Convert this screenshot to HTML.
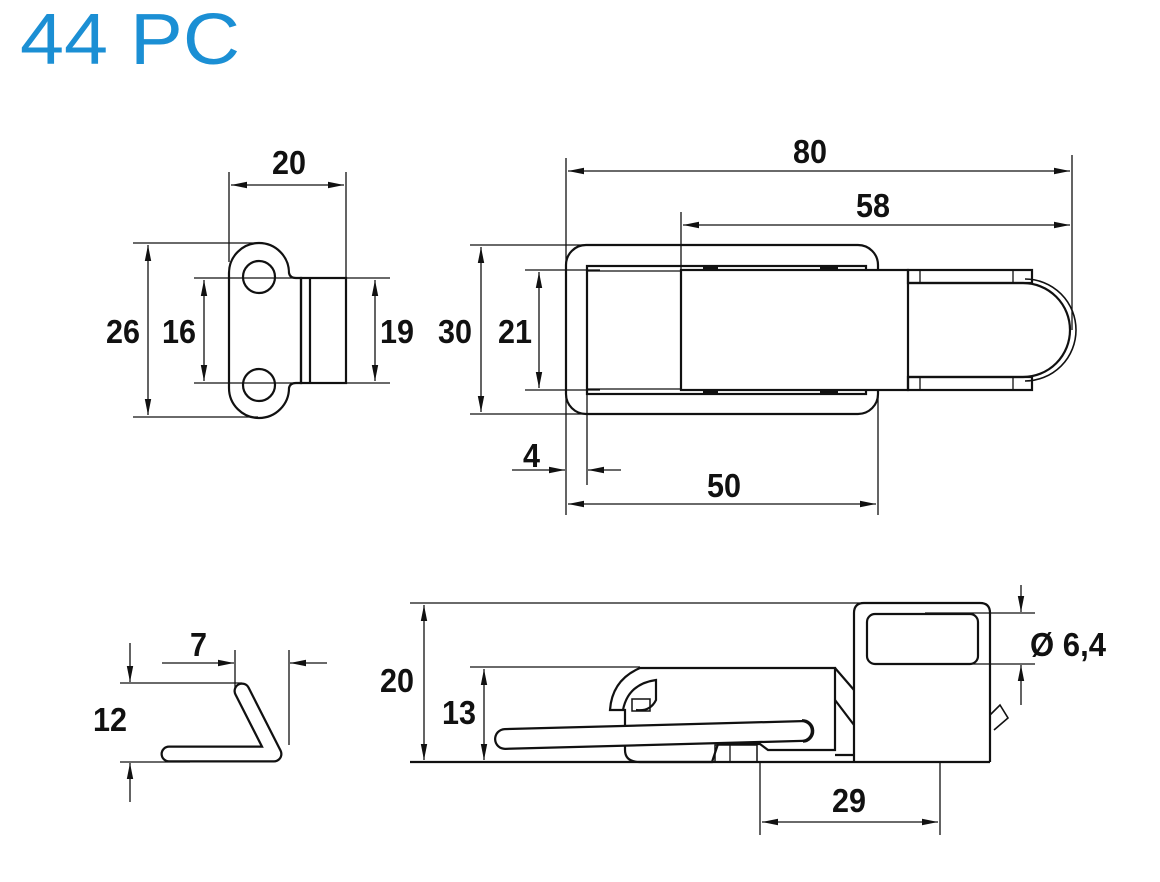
<!DOCTYPE html>
<html><head><meta charset="utf-8"><style>
html,body{margin:0;padding:0;background:#fff;}
svg{display:block}
.t{font-family:"Liberation Sans Narrow","Liberation Sans",sans-serif;font-weight:bold;font-size:33px;fill:#111;}
</style></head><body>
<svg width="1160" height="882" viewBox="0 0 1160 882" xmlns="http://www.w3.org/2000/svg">
<defs>
<marker id="a" viewBox="0 0 16 8" refX="16" refY="4" markerWidth="16" markerHeight="8" markerUnits="userSpaceOnUse" orient="auto-start-reverse"><path d="M0,0.8 L16,4 L0,7.2 z" fill="#111"/></marker>
</defs>
<text x="20" y="64" font-family="Liberation Sans, sans-serif" font-size="72" fill="#1b8fd4" textLength="220" lengthAdjust="spacingAndGlyphs">44 PC</text>

<g stroke="#111" fill="none" stroke-width="1.3">
<!-- top-left part -->
<line x1="229" y1="172" x2="229" y2="262"/>
<line x1="346" y1="172" x2="346" y2="278"/>
<line x1="231" y1="185" x2="344" y2="185" marker-start="url(#a)" marker-end="url(#a)"/>
<line x1="133" y1="243" x2="262" y2="243"/>
<line x1="133" y1="417" x2="258" y2="417"/>
<line x1="148" y1="245" x2="148" y2="415" marker-start="url(#a)" marker-end="url(#a)"/>
<line x1="194" y1="278" x2="300" y2="278"/>
<line x1="194" y1="383" x2="300" y2="383"/>
<line x1="204" y1="280" x2="204" y2="381" marker-start="url(#a)" marker-end="url(#a)"/>
<line x1="346" y1="278" x2="390" y2="278"/>
<line x1="346" y1="383" x2="390" y2="383"/>
<line x1="375" y1="280" x2="375" y2="381" marker-start="url(#a)" marker-end="url(#a)"/>
<g stroke-width="2.2">
<path d="M229,273 A30,30 0 0 1 289,273 Q290,278 296,278 L301,278 L301,383 L296,383 Q290,383 289,388 A30,30 0 0 1 229,388 Z"/>
<circle cx="259" cy="277" r="16"/>
<circle cx="259" cy="385" r="16"/>
<rect x="301" y="278" width="45" height="105"/>
<line x1="310" y1="278" x2="310" y2="383"/>
</g>

<!-- top-right part -->
<line x1="566" y1="158" x2="566" y2="515"/>
<line x1="1072" y1="155" x2="1072" y2="330"/>
<line x1="568" y1="171" x2="1070" y2="171" marker-start="url(#a)" marker-end="url(#a)"/>
<line x1="681" y1="212" x2="681" y2="275"/>
<line x1="683" y1="225" x2="1070" y2="225" marker-start="url(#a)" marker-end="url(#a)"/>
<line x1="470" y1="245" x2="590" y2="245"/>
<line x1="470" y1="414" x2="590" y2="414"/>
<line x1="481" y1="247" x2="481" y2="412" marker-start="url(#a)" marker-end="url(#a)"/>
<line x1="525" y1="270" x2="600" y2="270"/>
<line x1="525" y1="390" x2="600" y2="390"/>
<line x1="539" y1="272" x2="539" y2="388" marker-start="url(#a)" marker-end="url(#a)"/>
<line x1="587" y1="394" x2="587" y2="485"/>
<line x1="512" y1="470" x2="565" y2="470" marker-end="url(#a)"/>
<line x1="621" y1="470" x2="588" y2="470" marker-end="url(#a)"/>
<line x1="878" y1="395" x2="878" y2="515"/>
<line x1="568" y1="504" x2="876" y2="504" marker-start="url(#a)" marker-end="url(#a)"/>
<g stroke-width="2.2">
<rect x="566" y="245" width="312" height="169" rx="20"/>
<rect x="587" y="266" width="279" height="128"/>
<line x1="587" y1="271" x2="866" y2="271" stroke-width="1.3"/>
<line x1="587" y1="389" x2="866" y2="389" stroke-width="1.3"/>
<rect x="681" y="270" width="227" height="120" fill="#fff"/>
<path d="M908,283 L1023,283 A47,47 0 0 1 1023,377 L908,377"/>
<path d="M1025,279 A51,51 0 0 1 1025,381" stroke-width="1.6"/>
<rect x="908" y="270" width="124" height="13"/>
<rect x="908" y="377" width="124" height="13"/>
</g>
<line x1="920" y1="270" x2="920" y2="283"/><line x1="1013" y1="270" x2="1013" y2="283"/>
<line x1="920" y1="377" x2="920" y2="390"/><line x1="1013" y1="377" x2="1013" y2="390"/>
<g stroke-width="3"><line x1="703" y1="268" x2="718" y2="268"/><line x1="820" y1="268" x2="838" y2="268"/><line x1="703" y1="392" x2="718" y2="392"/><line x1="820" y1="392" x2="838" y2="392"/></g>

<!-- bottom-left hook -->
<line x1="120" y1="683" x2="242" y2="683"/>
<line x1="120" y1="762" x2="190" y2="762"/>
<line x1="130" y1="643" x2="130" y2="682" marker-end="url(#a)"/>
<line x1="130" y1="802" x2="130" y2="763" marker-end="url(#a)"/>
<line x1="235" y1="650" x2="235" y2="690"/>
<line x1="289" y1="650" x2="289" y2="745"/>
<line x1="162" y1="663" x2="234" y2="663" marker-end="url(#a)"/>
<line x1="327" y1="663" x2="290" y2="663" marker-end="url(#a)"/>
<path d="M169,754 L274,754 L242,691" stroke-width="17" stroke-linejoin="round" stroke-linecap="round"/>
<path d="M169,754 L274,754 L242,691" stroke="#fff" stroke-width="12.5" stroke-linejoin="round" stroke-linecap="round"/>

<!-- bottom-right part -->
<line x1="410" y1="603" x2="860" y2="603"/>
<line x1="424" y1="605" x2="424" y2="760" marker-start="url(#a)" marker-end="url(#a)"/>
<line x1="470" y1="667" x2="640" y2="667"/>
<line x1="484" y1="669" x2="484" y2="760" marker-start="url(#a)" marker-end="url(#a)"/>
<line x1="760" y1="762" x2="760" y2="835"/>
<line x1="940" y1="762" x2="940" y2="835"/>
<line x1="762" y1="822" x2="938" y2="822" marker-start="url(#a)" marker-end="url(#a)"/>
<line x1="925" y1="613" x2="1035" y2="613"/>
<line x1="925" y1="664" x2="1035" y2="664"/>
<line x1="1021" y1="585" x2="1021" y2="612" marker-end="url(#a)"/>
<line x1="1021" y1="705" x2="1021" y2="665" marker-end="url(#a)"/>
<g stroke-width="2.2">
<line x1="410" y1="762" x2="990" y2="762"/>
<path d="M854,762 L854,613 Q854,603 864,603 L980,603 Q990,603 990,613 L990,762"/>
<rect x="867" y="614" width="111" height="50" rx="8"/>
<path d="M990,715 L1000,705 L1008,718 L994,730" stroke-width="1.6"/>
<path d="M640,668 L835,668 L835,750 L768,750 L760,744 L718,744 L712,762 L640,762 Q625,762 625,750 L625,710 L610,710 Q612,680 640,668 Z"/>
<path d="M623,710 Q628,684 656,680 L656,700 Q650,712 636,710"/>
<rect x="632" y="699" width="18" height="12" stroke-width="1.5"/>
<rect x="715" y="745" width="42" height="17" stroke-width="1.5"/>
<line x1="730" y1="745" x2="730" y2="762" stroke-width="1.3"/>
<path d="M835,668 L854,690 M835,700 L854,725 M835,755 L854,755"/>
<line x1="505" y1="739" x2="802" y2="731" stroke-width="22" stroke-linecap="round"/>
<line x1="505" y1="739" x2="802" y2="731" stroke="#fff" stroke-width="17.5" stroke-linecap="round"/>
<path d="M802,720 A11,11 0 0 1 803,742" stroke-width="1.6"/>
</g>
</g>

<g class="t">
<text x="272" y="174" textLength="34" lengthAdjust="spacingAndGlyphs">20</text>
<text x="106" y="343" textLength="34" lengthAdjust="spacingAndGlyphs">26</text>
<text x="162" y="343" textLength="34" lengthAdjust="spacingAndGlyphs">16</text>
<text x="380" y="343" textLength="34" lengthAdjust="spacingAndGlyphs">19</text>
<text x="793" y="163" textLength="34" lengthAdjust="spacingAndGlyphs">80</text>
<text x="856" y="217" textLength="34" lengthAdjust="spacingAndGlyphs">58</text>
<text x="438" y="343" textLength="34" lengthAdjust="spacingAndGlyphs">30</text>
<text x="498" y="343" textLength="34" lengthAdjust="spacingAndGlyphs">21</text>
<text x="523" y="467" textLength="17" lengthAdjust="spacingAndGlyphs">4</text>
<text x="707" y="497" textLength="34" lengthAdjust="spacingAndGlyphs">50</text>
<text x="190" y="656" textLength="17" lengthAdjust="spacingAndGlyphs">7</text>
<text x="93" y="731" textLength="34" lengthAdjust="spacingAndGlyphs">12</text>
<text x="380" y="692" textLength="34" lengthAdjust="spacingAndGlyphs">20</text>
<text x="442" y="724" textLength="34" lengthAdjust="spacingAndGlyphs">13</text>
<text x="832" y="812" textLength="34" lengthAdjust="spacingAndGlyphs">29</text>
<text x="1030" y="656" textLength="76" lengthAdjust="spacingAndGlyphs">Ø 6,4</text>
</g>
</svg>
</body></html>
